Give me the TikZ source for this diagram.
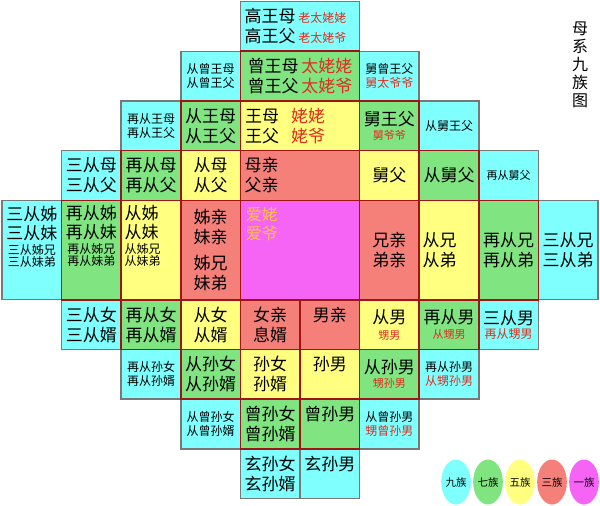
\documentclass[tikz,border=0pt]{standalone}
\usepackage{fontspec}
\newfontfamily\cjk{Noto Sans CJK SC}
\usetikzlibrary{shapes.geometric}
\definecolor{cyanc}{RGB}{128,255,255}
\definecolor{greenc}{RGB}{128,228,128}
\definecolor{yellowc}{RGB}{255,255,128}
\definecolor{salmonc}{RGB}{245,128,122}
\definecolor{magentac}{RGB}{245,100,245}
\definecolor{redline}{RGB}{160,20,20}
\definecolor{grayline}{RGB}{120,120,120}
\definecolor{redtxt}{RGB}{225,45,30}
\definecolor{aitxt}{RGB}{255,195,70}
\newcommand{\bigzh}{\fontsize{17}{20}\selectfont}
\newcommand{\smallzh}{\fontsize{12}{14}\selectfont}
\newcommand{\tinyzh}{\fontsize{11}{13}\selectfont}

\begin{document}
\begin{tikzpicture}[x=1pt, y=-1pt, align=center,
    cell/.style={minimum width=59.6pt, minimum height=49.7pt, inner sep=0pt, font=\cjk\bigzh},
    wide/.style={minimum width=119.2pt},
    tall/.style={minimum height=99.4pt},
    nine/.style={cell, fill=cyanc, draw=grayline, line width=1.5pt},
    seven/.style={cell, fill=greenc, draw=redline, line width=1.6pt},
    five/.style={cell, fill=yellowc, draw=redline, line width=1.6pt},
    three/.style={cell, fill=salmonc, draw=redline, line width=1.6pt},
    one/.style={cell, fill=magentac, draw=redline, line width=1.6pt},
    sm/.style={font=\cjk\smallzh},
    colname/.style={inner sep=0pt, font=\cjk\fontsize{17}{19}\selectfont},
    legend/.style={ellipse, minimum width=29pt, minimum height=45pt, inner sep=0pt, outer sep=0pt, font=\cjk\fontsize{10.5}{12}\selectfont}]

  \useasboundingbox (0,0) rectangle (600,506);

  % ninth generation ring (cyan)
  \node[nine, wide, text width=111pt, align=left] (GaoW) at (300,26.4) {高王母\,{\smallzh\color{redtxt}老太姥姥}\\高王父\,{\smallzh\color{redtxt}老太姥爷}};
  \node[nine, sm] (CongZengW) at (210.6,76.1) {从曾王母\\从曾王父};
  \node[nine, sm] (JiuZengW) at (389.4,76.1) {舅曾王父\\{\color{redtxt}舅太爷爷}};
  \node[nine, sm] (ZaiCongW) at (151,125.8) {再从王母\\再从王父};
  \node[nine, sm] (CongJiuW) at (449,125.8) {从舅王父};
  \node[nine] (SanCongMu) at (91.4,175.5) {三从母\\三从父};
  \node[nine, font=\cjk\tinyzh] (ZaiCongJiu) at (508.6,175.5) {再从舅父};
  \node[nine, tall] (SanCongZi) at (31.8,250) {};
  \node[nine, tall] (SanCongXiong) at (568.2,250) {三从兄\\三从弟};
  \node[nine] (SanCongNv) at (91.4,324.6) {三从女\\三从婿};
  \node[nine] (SanCongNan) at (508.6,324.6) {三从男\\[-6pt]{\smallzh\color{redtxt}再从甥男}};
  \node[nine, sm] (ZaiCongSunNv) at (151,374.3) {再从孙女\\再从孙婿};
  \node[nine, sm] (ZaiCongSunNan) at (449,374.3) {再从孙男\\{\color{redtxt}从甥孙男}};
  \node[nine, sm] (CongZengSunNv) at (210.6,424) {从曾孙女\\从曾孙婿};
  \node[nine, sm] (CongZengSunNan) at (389.4,424) {从曾孙男\\{\color{redtxt}甥曾孙男}};
  \node[nine] (XuanSunNv) at (270.2,473.7) {玄孙女\\玄孙婿};
  \node[nine] (XuanSunNan) at (329.8,473.7) {玄孙男\\\phantom{玄}};

  % seventh ring (green)
  \node[seven, wide] (ZengW) at (300,76.1) {曾王母\,{\color{redtxt}太姥姥}\\曾王父\,{\color{redtxt}太姥爷}};
  \node[seven] (CongW) at (210.6,125.8) {从王母\\从王父};
  \node[seven] (JiuW) at (389.4,125.8) {舅王父\\[-6pt]{\tinyzh\color{redtxt}舅爷爷}};
  \node[seven] (ZaiCongMu) at (151,175.5) {再从母\\再从父};
  \node[seven] (CongJiu) at (449,175.5) {从舅父};
  \node[seven, tall] (ZaiCongZi) at (91.4,250) {};
  \node[seven, tall] (ZaiCongXiong) at (508.6,250) {再从兄\\再从弟};
  \node[seven] (ZaiCongNv) at (151,324.6) {再从女\\再从婿};
  \node[seven] (ZaiCongNan) at (449,324.6) {再从男\\[-5pt]{\tinyzh\color{redtxt}从甥男}};
  \node[seven] (CongSunNv) at (210.6,374.3) {从孙女\\从孙婿};
  \node[seven] (CongSunNan) at (389.4,374.3) {从孙男\\[-6pt]{\tinyzh\color{redtxt}甥孙男}};
  \node[seven] (ZengSunNv) at (270.2,424) {曾孙女\\曾孙婿};
  \node[seven] (ZengSunNan) at (329.8,424) {曾孙男\\\phantom{曾}};

  % fifth ring (yellow)
  \node[five, wide, text width=110pt, align=left] (WangMu) at (300,125.8) {王母\hspace{12pt}{\color{redtxt}姥姥}\\王父\hspace{12pt}{\color{redtxt}姥爷}};
  \node[five] (CongMu) at (210.6,175.5) {从母\\从父};
  \node[five] (JiuFu) at (389.4,175.5) {舅父};
  \node[five, tall] (CongZi) at (151,250) {};
  \node[five, tall, text width=53pt, align=left] (CongXiong) at (449,250) {从兄\\从弟};
  \node[five] (CongNv) at (210.6,324.6) {从女\\从婿};
  \node[five] (CongNan) at (389.4,324.6) {从男\\[-4pt]{\tinyzh\color{redtxt}甥男}};
  \node[five] (SunNv) at (270.2,374.3) {孙女\\孙婿};
  \node[five] (SunNan) at (329.8,374.3) {孙男\\\phantom{孙}};

  % third ring (red)
  \node[three, wide, text width=111pt, align=left] (MuQin) at (300,175.5) {母亲\\父亲};
  \node[three, tall] (ZiQin) at (210.6,250) {姊亲\\妹亲\\[6pt]姊兄\\妹弟};
  \node[three, tall] (XiongQin) at (389.4,250) {兄亲\\弟亲};
  \node[three] (NvQin) at (270.2,324.6) {女亲\\息婿};
  \node[three] (NanQin) at (329.8,324.6) {男亲\\\phantom{男}};

  % first (self)
  \node[one, wide, tall] (AiLao) at (300,250) {};
  \node[anchor=north west, inner sep=0pt, align=left, text=aitxt, font=\cjk\fontsize{16}{19}\selectfont] (AiLaoT) at ([xshift=6pt,yshift=-7pt]AiLao.north west) {爱姥\\爱爷};

  % texts of the sister columns
  \node[colname, anchor=north] (SanCongZiT) at ([yshift=-6pt]SanCongZi.north) {三从姊\\三从妹\\[-4pt]{\smallzh 三从姊兄}\\[-7pt]{\smallzh 三从妹弟}};
  \node[colname, anchor=north] (ZaiCongZiT) at ([yshift=-6pt]ZaiCongZi.north) {再从姊\\再从妹\\[-4pt]{\smallzh 再从姊兄}\\[-7pt]{\smallzh 再从妹弟}};
  \node[colname, anchor=north west, align=left] (CongZiT) at ([xshift=4pt,yshift=-6pt]CongZi.north west) {从姊\\从妹\\[-4pt]{\smallzh 从姊兄}\\[-7pt]{\smallzh 从妹弟}};

  % title
  \node[inner sep=0pt, font=\cjk\fontsize{16}{18}\selectfont] (Title) at (580,65) {母\\系\\九\\族\\图};

  % legend
  \node[legend, fill=cyanc] (Nine) at (456,482) {九族};
  \node[legend, fill=greenc] (Seven) at ([xshift=32pt]Nine.center) {七族};
  \node[legend, fill=yellowc] (Five) at ([xshift=32pt]Seven.center) {五族};
  \node[legend, fill=salmonc] (Three) at ([xshift=32pt]Five.center) {三族};
  \node[legend, fill=magentac] (One) at ([xshift=32pt]Three.center) {一族};
\end{tikzpicture}
\end{document}
